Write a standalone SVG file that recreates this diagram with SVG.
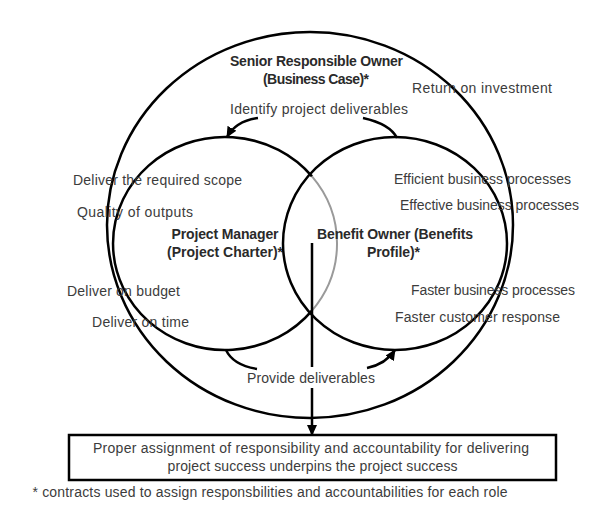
<svg xmlns="http://www.w3.org/2000/svg" width="594" height="511" viewBox="0 0 594 511">
<style>
.ln{fill:none;stroke:#000;stroke-width:2.5}
.gr{fill:none;stroke:#9a9a9a;stroke-width:2}
.t{font-family:"Liberation Sans",Arial,sans-serif;font-size:14px;fill:#3c3c3c}
.b{font-family:"Liberation Sans",Arial,sans-serif;font-size:14px;font-weight:bold;fill:#2a2a2a}
.m{text-anchor:middle}
</style>
<defs>
<marker id="ah" markerWidth="11" markerHeight="10" refX="10" refY="5" orient="auto" markerUnits="userSpaceOnUse">
<path d="M0,0 L11,5 L0,10 z" fill="#000"/>
</marker>
</defs>
<rect width="594" height="511" fill="#fff"/>
<g id="senior-owner">
<ellipse class="ln" cx="310" cy="225" rx="203" ry="193"/>
<text class="b m" x="316.5" y="66" textLength="173">Senior Responsible Owner</text>
<text class="b m" x="316" y="84" textLength="106">(Business Case)*</text>
<text class="t" x="412" y="93" textLength="140">Return on investment</text>
</g>
<g id="project-manager">
<path class="ln" d="M312,176.4 A112,106.5 0 1 0 312,310.6"/>
<path class="gr" d="M312,310.6 A112,106.5 0 0 0 312,176.4"/>
<text class="b m" x="225" y="239" textLength="107">Project Manager</text>
<text class="b m" x="225" y="257" textLength="116">(Project Charter)*</text>
<text class="t" x="73" y="185" textLength="169">Deliver the required scope</text>
<text class="t" x="77" y="217" textLength="116">Quality of outputs</text>
<text class="t" x="67" y="296" textLength="113">Deliver on budget</text>
<text class="t" x="92" y="327" textLength="97">Deliver on time</text>
</g>
<g id="benefit-owner">
<ellipse class="ln" cx="395" cy="243.5" rx="112" ry="106.5"/>
<text class="b" x="317" y="239" textLength="156">Benefit Owner (Benefits</text>
<text class="b" x="367" y="257" textLength="53">Profile)*</text>
<text class="t" x="394" y="184" textLength="177">Efficient business processes</text>
<text class="t" x="400" y="210" textLength="179">Effective business processes</text>
<text class="t" x="411" y="295" textLength="164">Faster business processes</text>
<text class="t" x="395" y="322" textLength="165">Faster customer response</text>
</g>
<g id="outcome">
<rect x="69" y="435" width="487" height="45" fill="#fff" stroke="#000" stroke-width="2.5"/>
<text class="t" x="93" y="453" textLength="436">Proper assignment of responsibility and accountability for delivering</text>
<text class="t" x="167.5" y="471" textLength="290">project success underpins the project success</text>
</g>
<g id="connectors">
<path class="ln" d="M258,118 Q236,121 227,137" marker-end="url(#ah)"/>
<path class="ln" d="M363,118 Q390,124 397,138"/>
<path class="ln" d="M226,350 Q233,365 257,369"/>
<path class="ln" d="M367,368 Q386,364 395,350" marker-end="url(#ah)"/>
<path class="ln" d="M312,243 V367 M312,388 V435" marker-end="url(#ah)"/>
</g>
<g id="labels">
<text class="t" x="230" y="114" textLength="178">Identify project deliverables</text>
<text class="t" x="247" y="383" textLength="128">Provide deliverables</text>
<text class="t" x="32.5" y="497" textLength="475">* contracts used to assign responsbilities and accountabilities for each role</text>
</g>
</svg>
